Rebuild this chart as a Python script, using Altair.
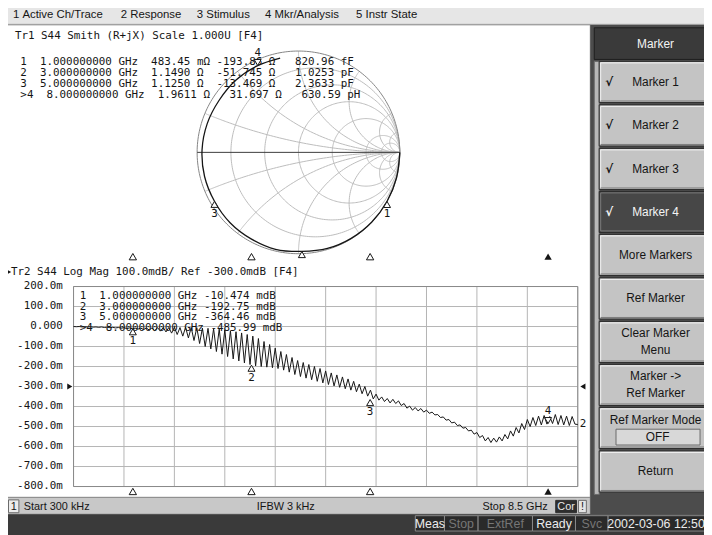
import numpy as np
import pandas as pd
import altair as alt

# ============================================================ data
START_GHZ = 0.0003
STOP_GHZ = 8.5
N_POINTS = 181

# Tr2 S44 log magnitude (mdB), one value per sweep point
logmag_mdb = [
    0, -1, 0, -2, -1, -2, -1, -3, -2, -4,
    -2, -5, -3, -6, -4, -7, -5, -8, -6, -10,
    -7, -11, -8, -13, -8, -15, -8, -17, -7, -20,
    -6, -23, -5, -27, -5, -33, -4, -40, -5, -48,
    -4, -57, -5, -70, -6, -85, -8, -100, -9, -112,
    -11, -125, -13, -138, -17, -150, -21, -162, -26, -172,
    -32, -182, -40, -190, -48, -197, -60, -200, -75, -203,
    -90, -206, -108, -210, -125, -218, -140, -228, -155, -240,
    -170, -250, -180, -258, -190, -266, -200, -274, -210, -282,
    -222, -290, -232, -297, -242, -304, -252, -311, -262, -318,
    -274, -326, -288, -336, -300, -348, -318, -362, -338, -368,
    -352, -375, -360, -382, -364, -385, -372, -395, -385, -408,
    -398, -418, -405, -422, -410, -428, -418, -434, -428, -442,
    -440, -455, -452, -468, -465, -482, -478, -495, -492, -508,
    -505, -522, -518, -538, -530, -555, -545, -572, -555, -580,
    -558, -578, -552, -572, -540, -562, -522, -548, -505, -532,
    -485, -515, -465, -500, -455, -495, -448, -492, -445, -488,
    -450, -485, -440, -490, -445, -492, -448, -495, -450, -488,
    -490,
]

marker_ids = [1, 2, 3, 4]
marker_freq_ghz = [1.0, 3.0, 5.0, 8.0]
marker_logmag_mdb = [-10.474, -192.75, -364.46, -485.99]
marker_r_ohm = [0.48345, 1.1490, 1.1250, 1.9611]
marker_x_ohm = [-193.86, -51.745, -13.469, 31.697]
marker_r_text = ["483.45 mΩ", "1.1490 Ω", "1.1250 Ω", "1.9611 Ω"]
marker_x_text = ["-193.86 Ω", "-51.745 Ω", "-13.469 Ω", "31.697 Ω"]
marker_eq_text = ["820.96 fF", "1.0253 pF", "2.3633 pF", "630.59 pH"]
active_marker = 4
smith_labelled = [1, 3, 4]
Z0 = 50.0

# Tr1 S44 Smith trace: magnitude (mdB) and angle (deg) read along the sweep
smith_freq_ghz = [0.0003, 0.5, 1.0, 1.5, 2.0, 2.5, 3.0, 3.5, 4.0, 4.5, 5.0, 5.5, 6.0, 6.5, 7.0, 7.5, 8.0, 8.5]
smith_mag_mdb = [0, -3, -10.5, -18, -40, -80, -192.75, -150, -235, -280, -364.46, -385, -430, -500, -570, -510, -485.99, -470]
smith_phase_deg = [0, -14.5, -28.9, -43.5, -58.5, -73.2, -88.0, -103.3, -118.7, -134.2, -149.8, -165.6, -181.5, -197.5, -213.3, -229.0, -244.8, -259.0]

logmag_ticks = [200, 100, 0, -100, -200, -300, -400, -500, -600, -700, -800]
logmag_tick_labels = ["200.0m", "100.0m", "0.000", "-100.0m", "-200.0m", "-300.0m",
                      "-400.0m", "-500.0m", "-600.0m", "-700.0m", "-800.0m"]
ref_level_mdb = -300
n_freq_div = 10
smith_r_values = [0.2, 0.5, 1, 2, 5, 10]
smith_x_values = [0.2, 0.5, 1, 2, 5, 10]

menu_items = ["1 Active Ch/Trace", "2 Response", "3 Stimulus", "4 Mkr/Analysis", "5 Instr State"]
softkey_title = "Marker"
softkey_labels = [["Marker 1"], ["Marker 2"], ["Marker 3"], ["Marker 4"], ["More Markers"],
                  ["Ref Marker"], ["Clear Marker", "Menu"], ["Marker ->", "Ref Marker"],
                  ["Ref Marker Mode"], ["Return"]]
softkey_checked = [True, True, True, True, False, False, False, False, False, False]
softkey_selected = 3
ref_mode_value = "OFF"
tr1_title = "Tr1 S44 Smith (R+jX) Scale 1.000U [F4]"
tr2_title = "Tr2 S44 Log Mag 100.0mdB/ Ref -300.0mdB [F4]"
status_start = "Start 300 kHz"
status_ifbw = "IFBW 3 kHz"
status_stop = "Stop 8.5 GHz"
bottom_items = ["Meas", "Stop", "ExtRef", "Ready", "Svc", "2002-03-06 12:50"]
bottom_enabled = [True, False, False, True, False, True]

assert len(logmag_mdb) == N_POINTS

# ============================================================ layout
# the page puts the drawing 8px in from the top-left, so screen coordinates
# 8..712 / 8..535 of the instrument screen are drawn 1:1
W, H = 704, 527
OFF = 8.0
MONO = "DejaVu Sans Mono"
UI = "Liberation Sans"
INK = "#151515"
NB = "\u00a0"


def px(v):
    return v - OFF


def py(v):
    return v - OFF


def nb(s):
    return s.replace(" ", NB)


XS = alt.Scale(domain=[OFF, 712], range=[0, W], nice=False, zero=False)
YS = alt.Scale(domain=[OFF, 535], range=[0, H], nice=False, zero=False)
FX = alt.Scale(domain=[START_GHZ, STOP_GHZ], range=[px(74.3), px(584.3)], nice=False, zero=False)
MY = alt.Scale(domain=[-800, 200], range=[py(489.0), py(286.7)], nice=False, zero=False)
SX = alt.Scale(domain=[-1, 1], range=[px(199.3), px(404.3)], nice=False, zero=False)
SY = alt.Scale(domain=[-1, 1], range=[py(253.5), py(48.5)], nice=False, zero=False)

layers = []


def rects(rows, **kw):
    df = pd.DataFrame(rows, columns=["x0", "y0", "x1", "y1", "fc", "sc", "sw"])
    return alt.Chart(df).mark_rect(**kw).encode(
        x=alt.X("x0:Q", scale=XS, axis=None), x2="x1:Q",
        y=alt.Y("y0:Q", scale=YS, axis=None), y2="y1:Q",
        fill=alt.Fill("fc:N", scale=None),
        stroke=alt.Stroke("sc:N", scale=None),
        strokeWidth=alt.StrokeWidth("sw:Q", scale=None))


def segs(rows, width=1):
    df = pd.DataFrame(rows, columns=["x0", "y0", "x1", "y1", "c"])
    return alt.Chart(df).mark_rule(strokeWidth=width).encode(
        x=alt.X("x0:Q", scale=XS, axis=None), x2="x1:Q",
        y=alt.Y("y0:Q", scale=YS, axis=None), y2="y1:Q",
        color=alt.Color("c:N", scale=None))


def texts(rows, font=UI, size=12, align="left", weight="normal"):
    df = pd.DataFrame(rows, columns=["x", "y", "t", "c"])
    df["t"] = df["t"].map(nb)
    return alt.Chart(df).mark_text(font=font, fontSize=size, align=align,
                                   baseline="middle", fontWeight=weight).encode(
        x=alt.X("x:Q", scale=XS, axis=None),
        y=alt.Y("y:Q", scale=YS, axis=None),
        text="t:N",
        color=alt.Color("c:N", scale=None))


# ---------------------------------------------------------------- chrome backgrounds
layers.append(rects([(2, 1, 760, 560, "#bdbdbd", "#4e4e4e", 1)], cornerRadius=7))
panel = [
    (4, 2.5, 712, 21, "#e6e6e6", "transparent", 0),
    (4, 22, 597, 500, "#ffffff", "#8c8c8c", 1),
    (4, 500, 597, 517, "#c8c8c8", "#8c8c8c", 1),
    (8.5, 502.5, 19, 515.5, "#ececec", "#6a6a6a", 1),
    (562, 503, 583, 515.5, "#2e2e2e", "#2e2e2e", 1),
    (585, 503, 593, 515.5, "#e4e4e4", "#6a6a6a", 1),
    (597, 22, 712, 517, "#4c4c4c", "transparent", 0),
    (601, 25, 760, 57, "#3a3a3a", "#1e1e1e", 1),
    (601, 59, 606, 497, "#b8b8b8", "#6a6a6a", 1),
]
btn_tops = [59, 103, 147, 190.5, 234, 278, 322, 365.5, 409, 453]
BTN_H = 41.5
bevel = []
for i, t in enumerate(btn_tops):
    sel = i == softkey_selected
    panel.append((606, t, 760, t + BTN_H, "#474747" if sel else "#c4c4c4", "#2a2a2a", 1))
    hi = "#7a7a7a" if sel else "#f2f2f2"
    bevel.append((607.5, t + 1.5, 712, t + 1.5, hi))
    bevel.append((607.5, t + 1.5, 607.5, t + BTN_H - 1.5, hi))
    bevel.append((607.5, t + BTN_H - 1.5, 712, t + BTN_H - 1.5, "#7c7c7c"))
panel.append((623, 431, 708, 447, "#d8d8d8", "#6a6a6a", 1))
layers.append(rects(panel))
layers.append(segs(bevel))
layers.append(rects([(2, 517, 760, 560, "#3a3a3a", "transparent", 0)], cornerRadius=6))
edges = [420, 449.5, 483.5, 538.5, 582, 615, 760]
layers.append(rects([(edges[i], 518.5, edges[i + 1], 534, "#2a2a2a", "#8a8a8a", 1)
                     for i in range(len(bottom_items))]))

# ---------------------------------------------------------------- Smith chart grid
grid_rows = []
gid = 0
tt = np.linspace(0, 2 * np.pi, 241)
for r in smith_r_values:
    c, rad = r / (1 + r), 1 / (1 + r)
    for k, a in enumerate(tt):
        grid_rows.append((gid, k, c + rad * np.cos(a), rad * np.sin(a)))
    gid += 1
rr = np.concatenate([[0.0], np.logspace(-2.5, 3.5, 200)])
for xv in smith_x_values:
    for s in (1, -1):
        g = (rr + 1j * s * xv - 1) / (rr + 1j * s * xv + 1)
        for k, gg in enumerate(g):
            grid_rows.append((gid, k, gg.real, gg.imag))
        gid += 1
sgrid = pd.DataFrame(grid_rows, columns=["gid", "k", "re", "im"])
layers.append(alt.Chart(sgrid).mark_line(color="#bcbcbc", strokeWidth=1).encode(
    x=alt.X("re:Q", scale=SX, axis=None), y=alt.Y("im:Q", scale=SY, axis=None),
    detail="gid:N", order="k:Q"))
outer = pd.DataFrame({"k": np.arange(len(tt)), "re": np.cos(tt), "im": np.sin(tt)})
layers.append(alt.Chart(outer).mark_line(color="#858585", strokeWidth=1).encode(
    x=alt.X("re:Q", scale=SX, axis=None), y=alt.Y("im:Q", scale=SY, axis=None), order="k:Q"))
layers.append(alt.Chart(pd.DataFrame({"a": [-1.0], "b": [1.0], "z": [0.0]})).mark_rule(
    color="#3c3c3c", strokeWidth=1).encode(
    x=alt.X("a:Q", scale=SX, axis=None), x2="b:Q", y=alt.Y("z:Q", scale=SY, axis=None)))

# ---------------------------------------------------------------- log mag grid
fgrid = [START_GHZ + k * (STOP_GHZ - START_GHZ) / n_freq_div for k in range(n_freq_div + 1)]
layers.append(alt.Chart(pd.DataFrame({"f": fgrid, "lo": -800, "hi": 200})).mark_rule(
    color="#b4b4b4", strokeWidth=1).encode(
    x=alt.X("f:Q", scale=FX, axis=None), y=alt.Y("lo:Q", scale=MY, axis=None), y2="hi:Q"))
layers.append(alt.Chart(pd.DataFrame({"m": logmag_ticks, "a": START_GHZ, "b": STOP_GHZ})).mark_rule(
    color="#b4b4b4", strokeWidth=1).encode(
    y=alt.Y("m:Q", scale=MY, axis=None), x=alt.X("a:Q", scale=FX, axis=None), x2="b:Q"))
layers.append(alt.Chart(pd.DataFrame({"a": [START_GHZ], "b": [STOP_GHZ], "lo": [-800], "hi": [200]})).mark_rect(
    fillOpacity=0, stroke="#8a8a8a", strokeWidth=1).encode(
    x=alt.X("a:Q", scale=FX, axis=None), x2="b:Q", y=alt.Y("lo:Q", scale=MY, axis=None), y2="hi:Q"))
layers.append(alt.Chart(pd.DataFrame({"m": logmag_ticks, "t": logmag_tick_labels})).mark_text(
    font=MONO, fontSize=11, align="right", baseline="middle", color=INK).encode(
    x=alt.value(px(63.5)), y=alt.Y("m:Q", scale=MY, axis=None), text="t:N"))
refdf = pd.DataFrame({"ref": [ref_level_mdb]})
layers.append(alt.Chart(refdf).mark_point(shape="triangle-right", filled=True, color=INK, size=36, opacity=1).encode(
    x=alt.value(px(70.5)), y=alt.Y("ref:Q", scale=MY, axis=None)))
layers.append(alt.Chart(refdf).mark_point(shape="triangle-left", filled=True, color=INK, size=36, opacity=1).encode(
    x=alt.value(px(589.5)), y=alt.Y("ref:Q", scale=MY, axis=None)))

mk = pd.DataFrame({"id": marker_ids, "f": marker_freq_ghz, "m": marker_logmag_mdb,
                   "lab": [str(i) for i in marker_ids]})
mk_pas = mk[mk["id"] != active_marker]
mk_act = mk[mk["id"] == active_marker]
for ypos in (256.5, 494.0):
    layers.append(alt.Chart(mk_pas).mark_point(shape="triangle-up", filled=True, fill="white", stroke=INK,
                                                strokeWidth=1, size=55, opacity=1).encode(
        x=alt.X("f:Q", scale=FX, axis=None), y=alt.value(py(ypos))))
    layers.append(alt.Chart(mk_act).mark_point(shape="triangle-up", filled=True, color=INK, size=55,
                                                opacity=1).encode(
        x=alt.X("f:Q", scale=FX, axis=None), y=alt.value(py(ypos))))

# ---------------------------------------------------------------- texts
menu_x = [13, 122, 199, 268, 360]
layers.append(texts([(menu_x[i], 12.5, m, INK) for i, m in enumerate(menu_items)], size=11.5))

mono_rows = [(15, 33, tr1_title, INK), (11, 272, tr2_title, INK)]
for k, n in enumerate(marker_ids):
    pre = ">" if n == active_marker else " "
    s1 = f"{pre}{n}  {marker_freq_ghz[k]:.9f} GHz  {marker_r_text[k]:<9} {marker_x_text[k]:>9}   {marker_eq_text[k]}"
    s2 = f"{pre}{n}  {marker_freq_ghz[k]:.9f} GHz {format(marker_logmag_mdb[k], '.5g')} mdB"
    mono_rows.append((20.5, 59.5 + 11 * k, s1, INK))
    mono_rows.append((80.5, 296 + 11 * k, s2, INK))
layers.append(texts(mono_rows, font=MONO, size=11))
layers.append(alt.Chart(pd.DataFrame({"x": [9.0], "y": [272.0]})).mark_point(
    shape="triangle-right", filled=True, color=INK, size=26, opacity=1).encode(
    x=alt.X("x:Q", scale=XS, axis=None), y=alt.Y("y:Q", scale=YS, axis=None)))

sk_rows = [(663, 41, softkey_title, "#f4f4f4")]
chk_rows = []
for i, lines in enumerate(softkey_labels):
    col = "#f4f4f4" if i == softkey_selected else INK
    mid = btn_tops[i] + BTN_H / 2
    if i == 8:
        sk_rows.append((663, btn_tops[i] + 12.5, lines[0], col))
        sk_rows.append((665, 439, ref_mode_value, col))
    elif len(lines) == 2:
        sk_rows.append((663, mid - 8.5, lines[0], col))
        sk_rows.append((663, mid + 8.5, lines[1], col))
    else:
        sk_rows.append((663, mid, lines[0], col))
    if softkey_checked[i]:
        chk_rows.append((616, mid, "√", col))
layers.append(texts(sk_rows, size=12, align="center"))
layers.append(texts(chk_rows, font="DejaVu Sans", size=12, align="center", weight="bold"))

layers.append(texts([(24, 509.5, status_start, INK)], size=11))
layers.append(texts([(13.8, 509.5, "1", INK), (289, 509.5, status_ifbw, INK),
                     (572.5, 509.5, "Cor", "#e8e8e8"), (589, 509.5, "!", INK)], size=11, align="center"))
layers.append(texts([(554, 509.5, status_stop, INK)], size=11, align="right"))
bx = [(edges[i] + min(edges[i + 1], 712)) / 2 for i in range(len(bottom_items))]
layers.append(texts([(bx[i], 526.5, t, "#ececec" if bottom_enabled[i] else "#767676")
                     for i, t in enumerate(bottom_items)], size=12.5, align="center"))

# ---------------------------------------------------------------- Smith trace + markers
mag = 10 ** (np.array(smith_mag_mdb) / 20000.0)
ph = np.deg2rad(np.array(smith_phase_deg))
strace = pd.DataFrame({"k": np.arange(len(smith_freq_ghz)), "re": mag * np.cos(ph), "im": mag * np.sin(ph)})
layers.append(alt.Chart(strace).mark_line(color=INK, strokeWidth=1.3, interpolate="catmull-rom").encode(
    x=alt.X("re:Q", scale=SX, axis=None), y=alt.Y("im:Q", scale=SY, axis=None), order="k:Q"))
zz = (np.array(marker_r_ohm) + 1j * np.array(marker_x_ohm)) / Z0
gm = (zz - 1) / (zz + 1)
smk = pd.DataFrame({"id": marker_ids, "re": gm.real, "im": gm.imag, "lab": [str(i) for i in marker_ids]})
s_pas = smk[smk["id"] != active_marker]
s_act = smk[smk["id"] == active_marker]
for dfm, shp, off, dy in ((s_pas, "triangle-up", 3.2, 13), (s_act, "triangle-down", -3.2, -13)):
    layers.append(alt.Chart(dfm).mark_point(shape=shp, filled=True, fill="white", stroke=INK, strokeWidth=1,
                                            size=50, opacity=1, yOffset=off).encode(
        x=alt.X("re:Q", scale=SX, axis=None), y=alt.Y("im:Q", scale=SY, axis=None)))
    lab = dfm[dfm["id"].isin(smith_labelled)]
    layers.append(alt.Chart(lab).mark_text(font=MONO, fontSize=11, color=INK, dy=dy, baseline="middle").encode(
        x=alt.X("re:Q", scale=SX, axis=None), y=alt.Y("im:Q", scale=SY, axis=None), text="lab:N"))

# ---------------------------------------------------------------- log mag trace + markers
tr = pd.DataFrame({"f": np.linspace(START_GHZ, STOP_GHZ, N_POINTS), "m": logmag_mdb})
layers.append(alt.Chart(tr).mark_line(color=INK, strokeWidth=1).encode(
    x=alt.X("f:Q", scale=FX, axis=None), y=alt.Y("m:Q", scale=MY, axis=None)))
for dfm, shp, off, dy in ((mk_pas, "triangle-up", 3.2, 13), (mk_act, "triangle-down", -3.2, -13)):
    layers.append(alt.Chart(dfm).mark_point(shape=shp, filled=True, fill="white", stroke=INK, strokeWidth=1,
                                            size=50, opacity=1, yOffset=off).encode(
        x=alt.X("f:Q", scale=FX, axis=None), y=alt.Y("m:Q", scale=MY, axis=None)))
    layers.append(alt.Chart(dfm).mark_text(font=MONO, fontSize=11, color=INK, dy=dy, baseline="middle").encode(
        x=alt.X("f:Q", scale=FX, axis=None), y=alt.Y("m:Q", scale=MY, axis=None), text="lab:N"))
layers.append(alt.Chart(tr.tail(1).assign(lab="2")).mark_text(
    font=MONO, fontSize=11, color=INK, dx=2, align="left", baseline="middle").encode(
    x=alt.X("f:Q", scale=FX, axis=None), y=alt.Y("m:Q", scale=MY, axis=None), text="lab:N"))

chart = alt.layer(*layers).resolve_scale(x="independent", y="independent").properties(
    width=W, height=H, autosize=alt.AutoSizeParams(type="none"), padding=0, background="#ffffff"
).configure_view(stroke=None)

chart.save("out.html", embed_options={"renderer": "svg", "actions": False})
